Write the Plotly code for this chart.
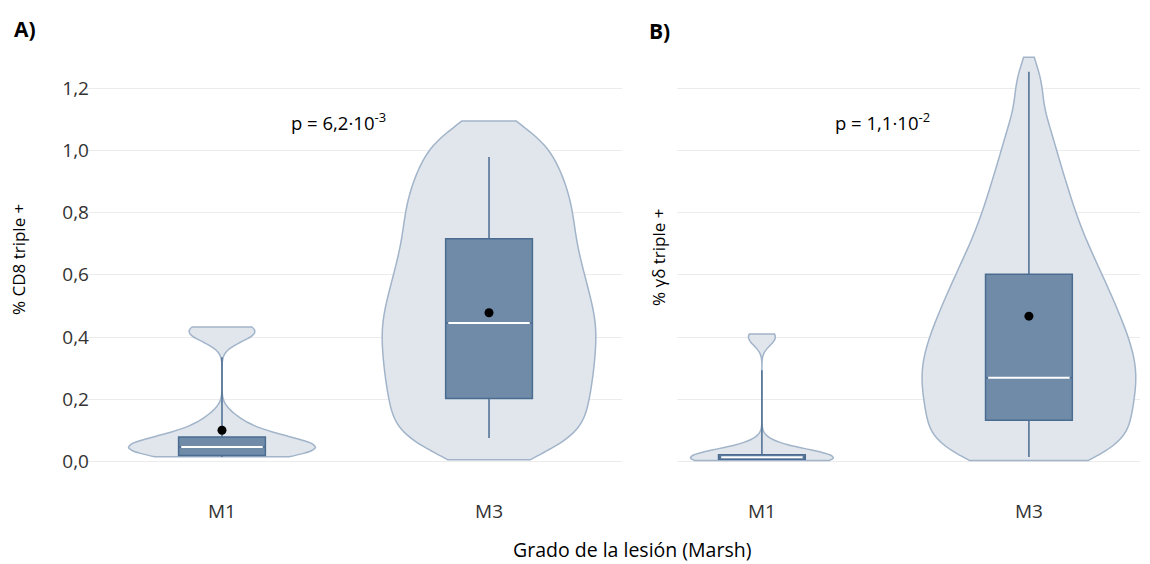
import plotly.graph_objects as go

# ---- data -------------------------------------------------------------
categories = ["M1", "M3"]

# per-sample percentages used for the density (violin) shapes
cd8_m1 = [0.015, 0.02, 0.025, 0.03, 0.035, 0.04, 0.045, 0.05, 0.055, 0.06,
          0.065, 0.075, 0.09, 0.11, 0.14, 0.40, 0.415, 0.425, 0.43]
cd8_m3 = [0.021, 0.059, 0.088, 0.117, 0.144, 0.172, 0.199, 0.226, 0.252,
          0.278, 0.304, 0.329, 0.355, 0.380, 0.405, 0.430, 0.455, 0.480,
          0.506, 0.533, 0.559, 0.587, 0.616, 0.644, 0.674, 0.705, 0.736,
          0.768, 0.799, 0.832, 0.865, 0.899, 0.936, 0.975, 1.017, 1.068]
gd_m1 = [0.003, 0.004, 0.005, 0.006, 0.008, 0.01, 0.012, 0.015, 0.02,
         0.03, 0.05, 0.39, 0.41]
gd_m3 = [0.007, 0.020, 0.033, 0.046, 0.064, 0.082, 0.101, 0.118, 0.136,
         0.154, 0.170, 0.187, 0.204, 0.220, 0.237, 0.253, 0.269, 0.285,
         0.301, 0.317, 0.333, 0.350, 0.367, 0.384, 0.401, 0.419, 0.438,
         0.456, 0.475, 0.495, 0.515, 0.536, 0.558, 0.581, 0.604, 0.629,
         0.655, 0.683, 0.713, 0.745, 0.780, 0.818, 0.859, 0.904, 0.956,
         1.017, 1.094, 1.22]

# extent of each violin (lower, upper)
cd8_span = [[0.015, 0.432], [0.005, 1.095]]
gd_span = [[0.003, 0.41], [0.003, 1.30]]

# box summaries per category (M1, M3)
cd8_q1 = [0.019, 0.202]
cd8_median = [0.046, 0.445]
cd8_q3 = [0.078, 0.716]
cd8_low = [0.014, 0.075]
cd8_high = [0.335, 0.979]
cd8_mean = [0.10, 0.478]

gd_q1 = [0.0065, 0.132]
gd_median = [0.013, 0.269]
gd_q3 = [0.0215, 0.602]
gd_low = [0.004, 0.014]
gd_high = [0.293, 1.253]
gd_mean = [None, 0.467]

cd8_p = "p = 6,2·10<sup>-3</sup>"
gd_p = "p = 1,1·10<sup>-2</sup>"

# ---- style ------------------------------------------------------------
FONT = "Open Sans"
VIOLIN_FILL = "#e1e6ed"
VIOLIN_LINE = "#a2b4c9"
BOX_FILL = "#6f8ba8"
BOX_LINE = "#4b6c91"
GRID = "#ececec"

W, H = 1150, 564
M_T, M_B = 51, 84

fig = go.Figure()


def add_panel(samples, spans, bws, widths, q1, med, q3, lo, hi, mean, xa, ya):
    for cat, vals, span, bw, w in zip(categories, samples, spans, bws, widths):
        fig.add_trace(go.Violin(
            x=[cat] * len(vals), y=vals, xaxis=xa, yaxis=ya,
            spanmode="manual", span=span, bandwidth=bw, width=w,
            scalemode="width", points=False,
            box_visible=False, meanline_visible=False,
            fillcolor=VIOLIN_FILL, line=dict(color=VIOLIN_LINE, width=1.5),
            hoverinfo="skip", showlegend=False,
        ))
    fig.add_trace(go.Box(
        x=categories, q1=q1, median=med, q3=q3, lowerfence=lo, upperfence=hi,
        xaxis=xa, yaxis=ya, width=0.325, whiskerwidth=0,
        fillcolor=BOX_FILL, line=dict(color=BOX_LINE, width=1.5),
        boxpoints=False, hoverinfo="skip", showlegend=False,
    ))
    # white median stroke drawn as a flat box
    fig.add_trace(go.Box(
        x=categories, q1=med, median=med, q3=med, lowerfence=med, upperfence=med,
        xaxis=xa, yaxis=ya, width=0.305, whiskerwidth=0,
        fillcolor="rgba(0,0,0,0)", line=dict(color="white", width=2),
        boxpoints=False, hoverinfo="skip", showlegend=False,
    ))
    fig.add_trace(go.Scatter(
        x=categories, y=mean, xaxis=xa, yaxis=ya, mode="markers",
        marker=dict(color="black", size=9), hoverinfo="skip", showlegend=False,
    ))


add_panel([cd8_m1, cd8_m3], cd8_span, [0.03, 0.06], [0.70, 0.80],
          cd8_q1, cd8_median, cd8_q3, cd8_low, cd8_high, cd8_mean, "x", "y")
add_panel([gd_m1, gd_m3], gd_span, [0.025, 0.07], [0.535, 0.80],
          gd_q1, gd_median, gd_q3, gd_low, gd_high, gd_mean, "x2", "y2")

yrange = [-0.06, 1.32]
yticks = [0, 0.2, 0.4, 0.6, 0.8, 1.0, 1.2]
ytext = ["0,0", "0,2", "0,4", "0,6", "0,8", "1,0", "1,2"]

xcommon = dict(type="category", categoryorder="array", categoryarray=categories,
               showgrid=False, zeroline=False, showline=False,
               ticks="outside", ticklen=14, tickcolor="rgba(0,0,0,0)",
               tickfont=dict(family=FONT, size=19, color="#333333"))
ycommon = dict(range=yrange, tickvals=yticks, ticktext=ytext,
               showgrid=True, gridcolor=GRID, gridwidth=1,
               zeroline=False, showline=False, ticks="",
               tickfont=dict(family=FONT, size=19, color="#333333"))

fig.update_layout(
    width=W, height=H,
    margin=dict(l=0, r=0, t=M_T, b=M_B),
    paper_bgcolor="white", plot_bgcolor="white",
    font=dict(family=FONT, color="#222222"),
    xaxis=dict(domain=[85 / W, 622 / W], range=[-0.513, 1.498], **xcommon),
    xaxis2=dict(domain=[677 / W, 1140 / W], range=[-0.318, 1.416], **xcommon),
    yaxis=dict(anchor="x", ticklabelstandoff=-5, **ycommon),
    yaxis2=dict(anchor="x2", showticklabels=False, **ycommon),
    violinmode="overlay", boxmode="overlay",
)


def px_to_paper(px, py):
    return px / W, (H - M_B - py) / (H - M_T - M_B)


labels = [
    # text, x px, y px, size, xanchor, angle
    ("<b>A)</b>", 12, 29, 21, "left", 0),
    ("<b>B)</b>", 647, 31, 21, "left", 0),
    (cd8_p, 339, 121, 18.5, "center", 0),
    (gd_p, 882, 121, 18.5, "center", 0),
    ("% CD8 triple +", 18, 260, 17, "center", -90),
    ("% γδ triple +", 658, 258, 17, "center", -90),
    ("Grado de la lesión (Marsh)", 632, 549, 19.5, "center", 0),
]
for text, px, py, size, xanchor, angle in labels:
    xp, yp = px_to_paper(px, py)
    fig.add_annotation(xref="paper", yref="paper", showarrow=False,
                       x=xp, y=yp, xanchor=xanchor, yanchor="middle",
                       text=text, textangle=angle,
                       font=dict(family=FONT, size=size, color="black"))

fig.write_html("out.html")
